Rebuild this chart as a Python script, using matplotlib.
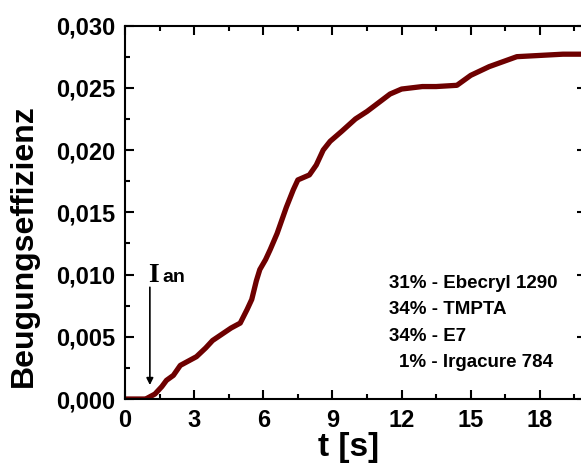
import matplotlib
matplotlib.use('Agg')
import matplotlib.pyplot as plt
from matplotlib.ticker import MultipleLocator, FuncFormatter

# curve (t in s, diffraction efficiency)
t = [0.0, 0.9, 1.0, 1.3, 1.6, 1.8, 2.1, 2.4, 2.8, 3.1, 3.5, 3.8, 4.2, 4.6,
     5.0, 5.3, 5.5, 5.7, 5.85, 6.1, 6.3, 6.6, 7.0, 7.3, 7.5, 8.0, 8.3, 8.6,
     8.9, 9.4, 10.0, 10.5, 11.0, 11.5, 12.0, 12.9, 13.5, 14.4, 15.0, 15.8,
     16.4, 17.0, 18.0, 19.0, 20.0]
eta = [0.0, 0.0, 0.0001, 0.0004, 0.0010, 0.0015, 0.0019, 0.0027, 0.0031,
       0.0034, 0.0041, 0.0047, 0.0052, 0.0057, 0.0061, 0.0072, 0.0080,
       0.0095, 0.0104, 0.0112, 0.0120, 0.0133, 0.0154, 0.0168, 0.0176,
       0.0180, 0.0188, 0.0200, 0.0207, 0.0215, 0.0225, 0.0231, 0.0238,
       0.0245, 0.0249, 0.0251, 0.0251, 0.0252, 0.0260, 0.0267, 0.0271,
       0.0275, 0.0276, 0.0277, 0.0277]

composition = ["31% - Ebecryl 1290", "34% - TMPTA", "34% - E7", "1% - Irgacure 784"]
t_on = 1.08

plt.rcParams['font.family'] = ['Liberation Sans', 'DejaVu Sans']
plt.rcParams['font.weight'] = 'bold'

fig = plt.figure(figsize=(5.81, 4.68), dpi=100)
ax = fig.add_axes([0.2151, 0.1474, 0.7935, 0.798])

ax.plot(t, eta, color='#6e0000', lw=3.8, solid_joinstyle='round')

ax.set_xlim(0, 20)
ax.set_ylim(0, 0.030)
ax.xaxis.set_major_locator(MultipleLocator(3))
ax.xaxis.set_minor_locator(MultipleLocator(1.5))
ax.yaxis.set_major_locator(MultipleLocator(0.005))
ax.yaxis.set_minor_locator(MultipleLocator(0.0025))
ax.yaxis.set_major_formatter(FuncFormatter(lambda v, p: f"{v:.3f}".replace('.', ',')))
ax.tick_params(which='both', direction='in', top=True, right=True, width=1.5)
ax.tick_params(which='major', length=6.5, labelsize=17, pad=7)
ax.tick_params(which='minor', length=3.5)
for s in ax.spines.values():
    s.set_linewidth(1.5)

ax.set_xlabel("t [s]", fontsize=24, fontweight='bold')
ax.xaxis.set_label_coords(0.486, -0.088)
ax.xaxis.label.set_va('top')
ax.set_ylabel("Beugungseffizienz", fontsize=23, fontweight='bold')
ax.yaxis.set_label_coords(-0.187, 0.41)

# composition text
for i, line in enumerate(composition):
    x = 0.572 if i < 3 else 0.594
    ax.text(x, 0.31 - i * 0.071, line, transform=ax.transAxes, fontsize=13.5,
            fontweight='bold', va='center', ha='left')

# irradiation-on marker
ax.annotate("", xy=(t_on, 0.0009), xytext=(t_on, 0.0092),
            arrowprops=dict(arrowstyle='-|>', color='black', lw=1.2,
                            mutation_scale=10))
ax.text(t_on - 0.08, 0.0094, "I", fontsize=20, fontweight='bold',
        family='Liberation Serif', ha='left', va='baseline')
ax.text(t_on + 0.55, 0.0094, "an", fontsize=14, fontweight='bold',
        ha='left', va='baseline')

fig.savefig("out.png", dpi=100)
